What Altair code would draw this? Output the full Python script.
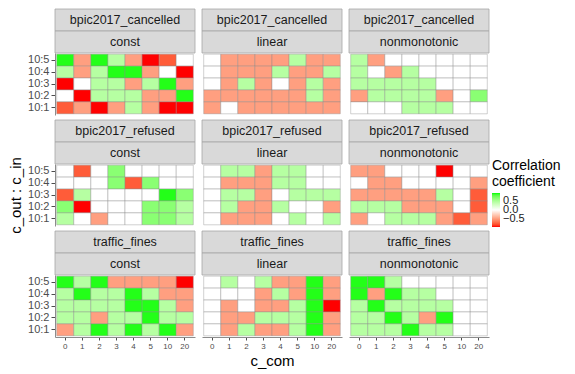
import altair as alt
import pandas as pd

c_com = ["0", "1", "2", "3", "4", "5", "10", "20"]
ratios = ["10:5", "10:4", "10:3", "10:2", "10:1"]
datasets = ["bpic2017_cancelled", "bpic2017_refused", "traffic_fines"]
methods = ["const", "linear", "nonmonotonic"]

# rows: 10:5, 10:4, 10:3, 10:2, 10:1 ; columns: c_com 0..20
cancelled_const = [
    [0.88, -0.45, 0.88, 0.42, -0.45, -0.9, -0.72, 0.0],
    [0.42, -0.45, 0.42, 0.88, 0.88, -0.45, 0.0, -0.9],
    [-0.9, 0.0, 0.42, 0.42, -0.45, 0.42, 0.88, -0.45],
    [0.0, -0.9, 0.42, 0.42, 0.42, -0.45, -0.45, 0.88],
    [-0.72, -0.45, -0.9, -0.45, 0.42, -0.45, -0.9, -0.9],
]
cancelled_linear = [
    [0.0, -0.45, -0.45, -0.45, -0.45, 0.42, -0.45, -0.45],
    [0.0, -0.45, -0.45, -0.45, 0.42, -0.45, -0.45, 0.42],
    [0.0, -0.45, 0.42, -0.45, 0.0, -0.45, 0.42, -0.45],
    [-0.45, -0.45, -0.45, -0.45, -0.45, -0.45, 0.42, -0.45],
    [-0.45, 0.0, -0.45, -0.45, -0.45, -0.45, -0.45, -0.45],
]
cancelled_nonmono = [
    [0.42, -0.45, 0.0, 0.0, 0.0, 0.0, 0.0, 0.0],
    [0.42, 0.0, -0.45, 0.42, 0.0, 0.0, 0.0, 0.0],
    [0.42, 0.42, 0.42, 0.42, 0.42, 0.0, 0.0, 0.0],
    [-0.45, 0.42, 0.42, 0.42, 0.42, -0.45, 0.0, 0.62],
    [0.0, 0.0, 0.0, 0.42, 0.42, 0.42, 0.0, 0.0],
]
refused_const = [
    [0.0, -0.72, 0.0, 0.62, 0.0, 0.0, 0.0, 0.0],
    [0.0, 0.0, 0.0, 0.62, -0.72, 0.62, 0.0, 0.0],
    [-0.72, 0.42, 0.0, 0.0, 0.0, 0.0, 0.88, 0.62],
    [0.62, -0.9, 0.0, 0.0, 0.0, 0.62, 0.62, 0.42],
    [0.42, 0.0, -0.45, 0.0, 0.0, 0.62, 0.62, 0.42],
]
refused_linear = [
    [0.0, 0.42, 0.42, -0.45, 0.42, 0.42, 0.0, 0.0],
    [0.0, -0.45, -0.45, -0.45, 0.42, 0.42, 0.0, 0.0],
    [0.0, 0.42, 0.42, -0.45, 0.0, 0.42, 0.42, 0.42],
    [0.0, 0.42, -0.45, -0.45, 0.42, 0.0, 0.0, -0.45],
    [0.0, -0.45, -0.45, -0.45, 0.0, 0.42, 0.0, 0.42],
]
refused_nonmono = [
    [-0.45, -0.45, 0.0, 0.0, 0.0, -0.9, 0.0, 0.0],
    [0.0, -0.45, -0.45, 0.0, 0.0, 0.0, 0.0, -0.45],
    [-0.45, -0.45, -0.45, -0.45, -0.45, 0.42, 0.0, -0.72],
    [0.42, 0.42, 0.42, -0.45, -0.45, -0.45, 0.0, -0.72],
    [-0.45, 0.0, 0.42, 0.42, 0.42, -0.45, -0.72, -0.45],
]
traffic_const = [
    [0.88, 0.42, 0.88, -0.45, -0.45, -0.45, -0.45, -0.9],
    [0.42, 0.88, 0.42, 0.42, 0.88, 0.42, -0.45, -0.45],
    [0.42, 0.42, 0.42, 0.42, 0.88, 0.88, 0.42, -0.45],
    [0.42, 0.42, -0.45, 0.42, 0.42, 0.88, 0.42, 0.42],
    [-0.45, 0.42, 0.88, 0.42, 0.88, 0.42, 0.88, -0.45],
]
traffic_linear = [
    [0.0, 0.42, 0.0, 0.42, -0.45, -0.45, 0.88, -0.45],
    [0.0, 0.0, 0.0, -0.45, 0.42, -0.45, 0.88, -0.45],
    [0.0, -0.45, 0.0, -0.45, -0.45, 0.42, 0.88, -0.9],
    [0.0, -0.45, -0.45, 0.42, 0.42, 0.42, 0.88, -0.45],
    [0.0, -0.45, 0.42, -0.45, -0.45, 0.42, 0.88, -0.45],
]
traffic_nonmono = [
    [0.88, 0.88, 0.42, 0.0, 0.0, 0.0, 0.0, 0.0],
    [0.88, -0.45, 0.88, 0.42, 0.42, 0.0, 0.0, 0.0],
    [0.42, 0.88, 0.42, 0.42, 0.42, 0.42, 0.0, 0.0],
    [0.42, 0.42, 0.88, 0.42, -0.45, 0.88, 0.0, 0.0],
    [0.42, 0.42, 0.42, 0.88, 0.42, 0.42, 0.0, 0.0],
]

grids = {
    ("bpic2017_cancelled", "const"): cancelled_const,
    ("bpic2017_cancelled", "linear"): cancelled_linear,
    ("bpic2017_cancelled", "nonmonotonic"): cancelled_nonmono,
    ("bpic2017_refused", "const"): refused_const,
    ("bpic2017_refused", "linear"): refused_linear,
    ("bpic2017_refused", "nonmonotonic"): refused_nonmono,
    ("traffic_fines", "const"): traffic_const,
    ("traffic_fines", "linear"): traffic_linear,
    ("traffic_fines", "nonmonotonic"): traffic_nonmono,
}

records = []
for (ds, m), grid in grids.items():
    for r, vals in zip(ratios, grid):
        for c, v in zip(c_com, vals):
            records.append({"dataset": ds, "method": m, "ratio": r, "c_com": c, "value": v})
df = pd.DataFrame(records)

W, H, S = 140, 62, 22
FONT = "Liberation Sans"

color = alt.Color(
    "value:Q",
    scale=alt.Scale(domain=[-0.9, 0, 0.9], range=["#ff0000", "#ffffff", "#00ff00"], interpolate="lab"),
    legend=alt.Legend(
        title=["Correlation", "coefficient"],
        orient="none", legendX=437, legendY=106,
        direction="vertical",
        gradientLength=34, gradientThickness=8,
        values=[-0.5, 0, 0.5], format=".1f",
        labelOverlap=False, labelFontSize=11, labelColor="#1a1a1a",
        titleFontSize=14, titleFontWeight="normal", titleColor="#000000",
        titlePadding=4, labelOffset=3, titleLimit=200,
    ),
)


def panel(ds, m, i, j):
    sub = df[(df.dataset == ds) & (df.method == m)]
    if i == 2:
        xaxis = alt.Axis(
            labelAngle=0, labelFontSize=8, labelColor="#4d4d4d", tickSize=3,
            tickColor="#4d4d4d", domainColor="#8c8c8c", labelPadding=2,
            title="c_com" if j == 1 else None,
            titleFontSize=15, titleFontWeight="normal", titlePadding=3,
        )
    else:
        xaxis = None
    if j == 0:
        yaxis = alt.Axis(
            labelFontSize=11, labelColor="#4d4d4d", tickSize=4,
            tickColor="#4d4d4d", domainColor="#8c8c8c", labelPadding=2,
            title="c_out : c_in" if i == 1 else None,
            titleFontSize=15, titleFontWeight="normal", titlePadding=4,
        )
    else:
        yaxis = None
    heat = alt.Chart(sub).mark_rect(stroke="#8c8c8c", strokeWidth=0.4).encode(
        x=alt.X("c_com:N", sort=c_com, scale=alt.Scale(paddingInner=0, paddingOuter=0.1), axis=xaxis),
        y=alt.Y("ratio:N", sort=ratios, scale=alt.Scale(paddingInner=0, paddingOuter=0.1), axis=yaxis),
        color=color,
    )
    strip1 = alt.Chart(alt.Data(values=[{"label": ds}])).mark_rect(
        fill="#d9d9d9", stroke="#a6a6a6", strokeWidth=0.8
    ).encode(x=alt.value(0), x2=alt.value(W), y=alt.value(-2 * S), y2=alt.value(-S))
    strip2 = alt.Chart(alt.Data(values=[{"label": m}])).mark_rect(
        fill="#d9d9d9", stroke="#a6a6a6", strokeWidth=0.8
    ).encode(x=alt.value(0), x2=alt.value(W), y=alt.value(-S), y2=alt.value(0))
    text1 = alt.Chart(alt.Data(values=[{"label": ds}])).mark_text(
        fontSize=12.5, color="#1a1a1a", align="center", baseline="middle"
    ).encode(x=alt.value(W / 2), y=alt.value(-1.5 * S), text="label:N")
    text2 = alt.Chart(alt.Data(values=[{"label": m}])).mark_text(
        fontSize=12.5, color="#1a1a1a", align="center", baseline="middle"
    ).encode(x=alt.value(W / 2), y=alt.value(-0.5 * S), text="label:N")
    return alt.layer(heat, strip1, strip2, text1, text2).properties(width=W, height=H)


panels = [panel(ds, m, i, j) for i, ds in enumerate(datasets) for j, m in enumerate(methods)]

chart = alt.concat(
    *panels, columns=3, spacing={"row": 2 * S + 5, "column": 7}, bounds="flush"
).properties(
    padding={"left": 0, "top": 0, "right": 0, "bottom": 4}
).configure(font=FONT).configure_view(stroke=None)

chart.save("out.html", embed_options={"renderer": "svg", "actions": False})
